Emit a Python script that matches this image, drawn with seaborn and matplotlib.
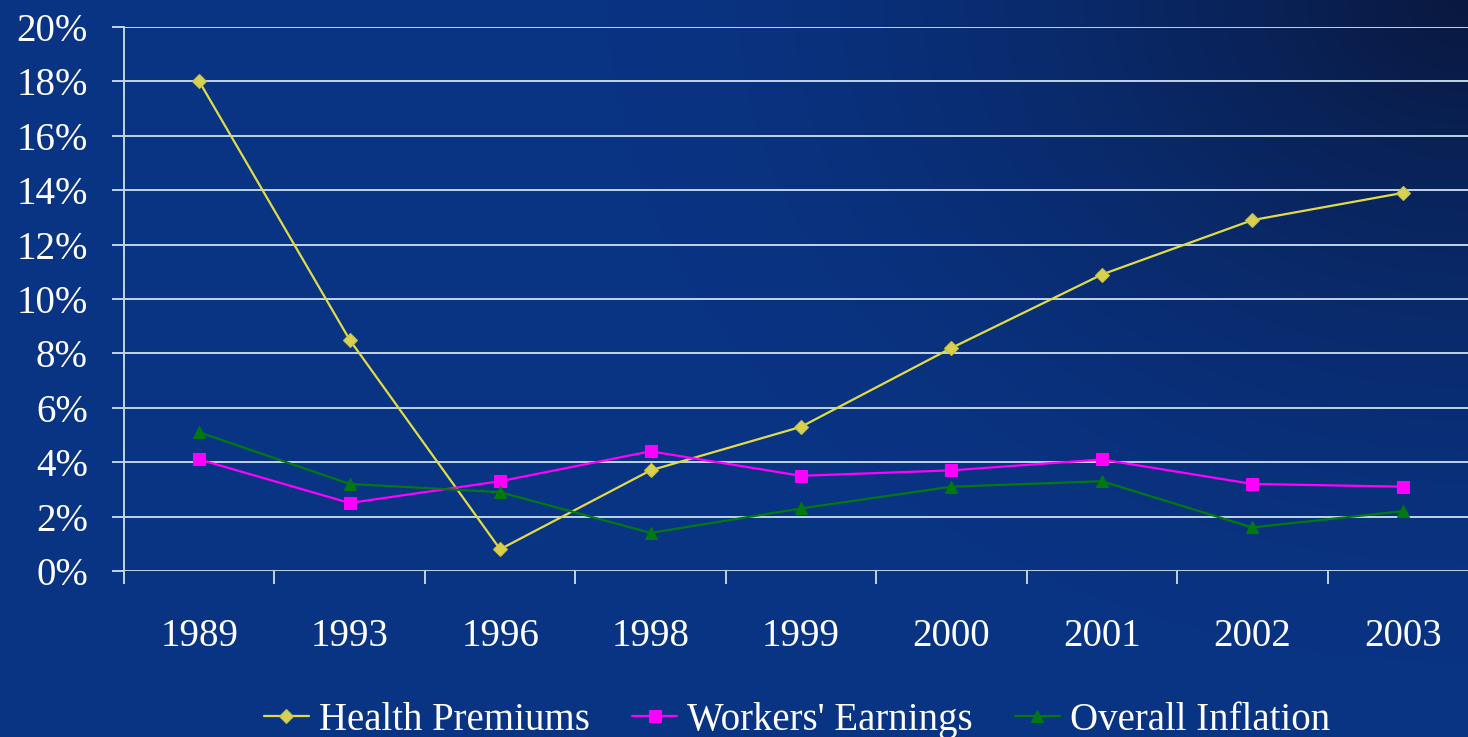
import numpy as np
import pandas as pd
import matplotlib
matplotlib.use("Agg")
import matplotlib.pyplot as plt
import seaborn as sns

years = ["1989", "1993", "1996", "1998", "1999", "2000", "2001", "2002", "2003"]
health_premiums = [18.0, 8.5, 0.8, 3.7, 5.3, 8.2, 10.9, 12.9, 13.9]
workers_earnings = [4.1, 2.5, 3.3, 4.4, 3.5, 3.7, 4.1, 3.2, 3.1]
overall_inflation = [5.1, 3.2, 2.9, 1.4, 2.3, 3.1, 3.3, 1.6, 2.2]
series_names = ["Health Premiums", "Workers' Earnings", "Overall Inflation"]
y_ticks = list(range(0, 21, 2))

df = pd.DataFrame({
    "Year": years * 3,
    "Value": health_premiums + workers_earnings + overall_inflation,
    "Series": [s for s in series_names for _ in years],
})

sns.set_theme(style="white")
plt.rcParams["font.family"] = ["Liberation Serif", "DejaVu Serif"]

W, H = 1468, 737
fig = plt.figure(figsize=(W / 100, H / 100), dpi=100)

# background gradient: blue, darker toward the top right corner
bg = fig.add_axes([0, 0, 1, 1], zorder=-10)
yy, xx = np.mgrid[0:H, 0:W]
d = np.hypot(xx - W, yy * 1.3)
t = np.clip(1 - d / 950, 0, 1) ** 1.8
base = np.array([10, 52, 132]) / 255
dark = np.array([10, 24, 62]) / 255
img = base[None, None, :] * (1 - t[..., None]) + dark[None, None, :] * t[..., None]
bg.imshow(img, aspect="auto", extent=[0, 1, 0, 1])
bg.axis("off")

ax = fig.add_axes([124 / W, 166 / H, 1354 / W, 544 / H])
ax.set_facecolor("none")

colors = {"Health Premiums": "#e0dc48", "Workers' Earnings": "#ff00ff", "Overall Inflation": "#007a10"}
markers = {"Health Premiums": "D", "Workers' Earnings": "s", "Overall Inflation": "^"}
sizes = {"Health Premiums": 7, "Workers' Earnings": 8.5, "Overall Inflation": 8.5}

for name in series_names:
    sub = df[df["Series"] == name]
    sns.lineplot(data=sub, x="Year", y="Value", ax=ax, color=colors[name],
                 marker=markers[name], markersize=sizes[name], linewidth=1.6,
                 markeredgewidth=0.8, markeredgecolor=colors[name] if name != "Health Premiums" else "#c8c040",
                 markerfacecolor=colors[name] if name != "Health Premiums" else "#d8d050",
                 label=name)

grid_c = "#c0d4e8"
ax.set_xlim(-0.5, len(years) - 0.5)
ax.set_ylim(0, 20)
ax.set_yticks(y_ticks)
ax.set_yticklabels([f"{v}%" for v in y_ticks])
ax.set_xticks(np.arange(-0.5, len(years) - 0.4, 1), minor=False)
ax.set_xticklabels([])
ax.set_xticks(np.arange(len(years)), minor=True)
ax.set_xticklabels(years, minor=True)
ax.yaxis.grid(True, color=grid_c, linewidth=1.4)
ax.xaxis.grid(False)
for s in ["top", "right", "bottom"]:
    ax.spines[s].set_visible(False)
ax.spines["left"].set_color(grid_c)
ax.spines["left"].set_linewidth(1.4)
ax.tick_params(axis="y", which="major", length=9, width=1.4, color=grid_c, direction="out",
               left=True, pad=17, labelsize=28, labelcolor="white")
ax.tick_params(axis="x", which="major", length=9, width=1.4, color=grid_c, direction="out",
               bottom=True)
ax.tick_params(axis="x", which="minor", length=0, pad=34, labelsize=28, labelcolor="white")
ax.set_xlabel("")
ax.set_ylabel("")

leg = ax.legend(loc="center", bbox_to_anchor=(0.497, -0.275), ncol=3, frameon=False,
                fontsize=28, handlelength=1.15, handletextpad=0.25, columnspacing=1.1)
for txt in leg.get_texts():
    txt.set_color("white")

fig.savefig("out.png", dpi=100)
